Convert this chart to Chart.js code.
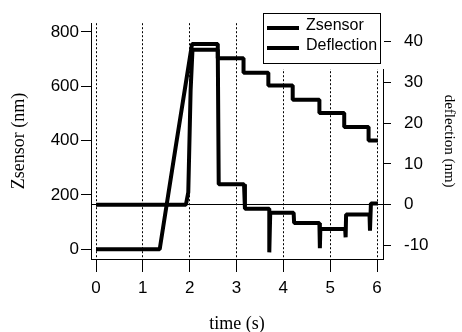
<!DOCTYPE html>
<html>
<head>
<meta charset="utf-8">
<script src="https://cdn.jsdelivr.net/npm/chart.js@4"></script>
<style>
  html, body { margin: 0; padding: 0; background: #fff; }
</style>
</head>
<body>
<canvas id="chart" width="462" height="332"></canvas>
<script>
// Zsensor trace, left axis (nm)
const zTime  = [0, 1.36, 1.7, 2.05, 2.6, 2.6, 3.15, 3.15, 3.68, 3.68, 4.2, 4.2, 4.77, 4.77, 5.3, 5.3, 5.82, 5.82, 6.02];
const zValue = [0, 0, 375, 755, 755, 703, 703, 650, 650, 603, 603, 550, 550, 502, 502, 450, 450, 400, 400];

// Deflection trace, right axis (nm)
const dTime  = [0, 1.92, 1.97, 2.02, 2.06, 2.6, 2.62, 3.16, 3.18, 3.7, 3.7, 3.72, 4.22, 4.23, 4.77, 4.78, 4.79, 5.32, 5.33, 5.34, 5.84, 5.85, 5.87, 6.02];
const dValue = [0, 0, 3, 28, 38, 38, 5, 5, -1, -1, -11.7, -2, -2, -4.5, -4.5, -10.7, -6, -6, -8, -2.4, -2.4, -6.4, 0.3, 0.3];

const seriesLabels = ['Zsensor', 'Deflection'];

// axis ranges
const timeRange = [-0.107, 6.128];
const zRange = [-35.7, 832];
const dRange = [-13.33, 44.5];

function toPoints(xs, ys) {
    return xs.map((x, i) => ({ x: x, y: ys[i] }));
}

Chart.defaults.font.family = '"Liberation Sans", Arial, sans-serif';
Chart.defaults.color = '#000';

// boxed legend like the original, drawn on the canvas
const boxedLegend = {
    id: 'boxedLegend',
    beforeDatasetsDraw(chart) {
        const ctx = chart.ctx;
        ctx.save();
        ctx.fillStyle = '#fff';
        ctx.fillRect(262, 12, 122, 57);
        ctx.restore();
    },
    afterDraw(chart) {
        const ctx = chart.ctx;
        ctx.save();
        ctx.strokeStyle = '#000';
        ctx.lineWidth = 1;
        ctx.strokeRect(263.5, 13.5, 117, 50);
        ctx.font = '16px "Liberation Sans"';
        ctx.textBaseline = 'middle';
        ctx.fillStyle = '#000';
        chart.data.datasets.forEach(function (ds, i) {
            const y = 28 + i * 20;
            ctx.lineWidth = 4;
            ctx.beginPath();
            ctx.moveTo(267, y);
            ctx.lineTo(299, y);
            ctx.stroke();
            ctx.fillText(ds.label, 306, y - 2);
        });
        ctx.restore();
    }
};

const lineStyle = {
    borderColor: '#000',
    backgroundColor: '#000',
    borderWidth: 4,
    borderJoinStyle: 'bevel',
    pointRadius: 0,
    tension: 0,
    fill: false
};

new Chart(document.getElementById('chart').getContext('2d'), {
    type: 'line',
    data: {
        datasets: [
            Object.assign({ label: seriesLabels[0], data: toPoints(zTime, zValue), yAxisID: 'y' }, lineStyle),
            Object.assign({ label: seriesLabels[1], data: toPoints(dTime, dValue), yAxisID: 'y2' }, lineStyle)
        ]
    },
    options: {
        responsive: false,
        animation: false,
        devicePixelRatio: 1,
        layout: { padding: { top: 16, left: 0, right: 0, bottom: 0 } },
        plugins: { legend: { display: false }, tooltip: { enabled: false } },
        scales: {
            x: {
                type: 'linear',
                min: timeRange[0],
                max: timeRange[1],
                afterFit: function (s) { s.height = 73; },
                ticks: { stepSize: 1, includeBounds: false, padding: 6, color: '#000', font: { size: 17 } },
                grid: { color: '#000', lineWidth: 1, tickLength: 13, tickColor: '#000', tickBorderDash: [] },
                border: { display: true, color: '#000', width: 1, dash: [2, 2] },
                title: {
                    display: true, text: 'time (s)', color: '#000',
                    font: { family: '"Liberation Serif", "Times New Roman", serif', size: 18, lineHeight: 1 },
                    padding: { top: 0, bottom: -1 }
                }
            },
            y: {
                position: 'left',
                min: zRange[0],
                max: zRange[1],
                afterFit: function (s) { s.width = 91; },
                ticks: { stepSize: 200, includeBounds: false, padding: 2, color: '#000', font: { size: 17 } },
                grid: { drawOnChartArea: false, color: '#000', tickColor: '#000', tickLength: 10 },
                border: { color: '#000', width: 1 },
                title: {
                    display: true, text: 'Zsensor (nm)', color: '#000',
                    font: { family: '"Liberation Serif", "Times New Roman", serif', size: 18, lineHeight: 1 },
                    padding: { top: 10, bottom: 0 }
                }
            },
            y2: {
                position: 'right',
                min: dRange[0],
                max: dRange[1],
                afterFit: function (s) { s.width = 79; },
                ticks: { stepSize: 10, includeBounds: false, padding: 13, color: '#000', font: { size: 17 } },
                grid: {
                    drawOnChartArea: true,
                    color: function (c) { return c.tick && c.tick.value === 0 ? '#000' : 'rgba(0,0,0,0)'; },
                    tickColor: '#000',
                    tickLength: 8
                },
                border: { color: '#000', width: 1 },
                title: {
                    display: true, text: 'deflection (nm)', color: '#000',
                    font: { family: '"Liberation Serif", "Times New Roman", serif', size: 15, lineHeight: 1 },
                    padding: { top: 5.5, bottom: 0 }
                }
            }
        }
    },
    plugins: [boxedLegend]
});
</script>
</body>
</html>
